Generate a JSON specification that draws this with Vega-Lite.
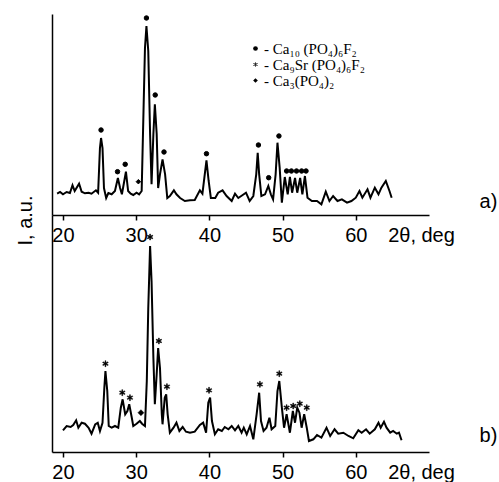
{
  "$schema": "https://vega.github.io/schema/vega-lite/v6.json",
  "padding": {"left": 15, "top": 13, "right": 0, "bottom": 0},
  "background": "white",
  "bounds": "flush",
  "spacing": 0,
  "config": {"view": {"stroke": null}, "font": "Liberation Sans"},
  "datasets": {
    "a_line": [
      {"theta":19.2,"I":21.3},{"theta":19.6,"I":23},{"theta":20.0,"I":20.7},{"theta":20.5,"I":23},{"theta":20.95,"I":22},{"theta":21.3,"I":29.7},{"theta":21.6,"I":24},{"theta":22.2,"I":31.3},{"theta":22.55,"I":23.3},{"theta":23.0,"I":21.7},{"theta":23.5,"I":22.3},{"theta":23.9,"I":21.3},{"theta":24.5,"I":24.7},{"theta":24.8,"I":22.3},{"theta":25.05,"I":67},{"theta":25.2,"I":77},{"theta":25.4,"I":67},{"theta":25.6,"I":27},{"theta":25.9,"I":17},{"theta":26.2,"I":22},{"theta":26.65,"I":20.7},{"theta":27.1,"I":24},{"theta":27.5,"I":37},{"theta":27.8,"I":27},{"theta":28.05,"I":20.7},{"theta":28.6,"I":43.3},{"theta":28.9,"I":24},{"theta":29.25,"I":21.3},{"theta":29.6,"I":20},{"theta":30.05,"I":22.3},{"theta":30.4,"I":20.7},{"theta":30.75,"I":24},{"theta":31.0,"I":104},{"theta":31.2,"I":167},{"theta":31.4,"I":189},{"theta":31.65,"I":164},{"theta":31.9,"I":81},{"theta":32.1,"I":30.7},{"theta":32.35,"I":81},{"theta":32.55,"I":110.7},{"theta":32.8,"I":81},{"theta":33.0,"I":27},{"theta":33.25,"I":40.7},{"theta":33.6,"I":55.7},{"theta":33.95,"I":40.7},{"theta":34.25,"I":17},{"theta":34.6,"I":19},{"theta":35.15,"I":24.7},{"theta":35.5,"I":20.7},{"theta":36.0,"I":17},{"theta":36.65,"I":14},{"theta":37.35,"I":14.7},{"theta":38.0,"I":15},{"theta":38.7,"I":24.7},{"theta":39.05,"I":21.3},{"theta":39.6,"I":54.7},{"theta":39.9,"I":34},{"theta":40.2,"I":17},{"theta":40.8,"I":17},{"theta":41.2,"I":22.3},{"theta":41.8,"I":24.7},{"theta":42.35,"I":19},{"theta":43.05,"I":14},{"theta":43.5,"I":21.3},{"theta":43.95,"I":17},{"theta":44.55,"I":20},{"theta":45.0,"I":22.3},{"theta":45.5,"I":14},{"theta":46.0,"I":19},{"theta":46.4,"I":40.7},{"theta":46.6,"I":62.3},{"theta":46.8,"I":40.7},{"theta":47.1,"I":19},{"theta":47.6,"I":20.7},{"theta":48.05,"I":29},{"theta":48.4,"I":20.7},{"theta":48.7,"I":15.7},{"theta":49.05,"I":40.7},{"theta":49.3,"I":72.3},{"theta":49.6,"I":47.3},{"theta":49.9,"I":12.3},{"theta":50.3,"I":38},{"theta":50.7,"I":20.7},{"theta":51.0,"I":38},{"theta":51.3,"I":22.3},{"theta":51.7,"I":37},{"theta":52.0,"I":22.3},{"theta":52.4,"I":37},{"theta":52.7,"I":20.7},{"theta":53.05,"I":39},{"theta":53.4,"I":17.3},{"theta":54.0,"I":14},{"theta":54.7,"I":14},{"theta":55.3,"I":10.7},{"theta":55.9,"I":23.3},{"theta":56.4,"I":14},{"theta":56.9,"I":19},{"theta":57.5,"I":14},{"theta":58.1,"I":15.7},{"theta":58.8,"I":12.3},{"theta":59.4,"I":14},{"theta":60.0,"I":17.3},{"theta":60.5,"I":24},{"theta":60.9,"I":17.3},{"theta":61.6,"I":25.7},{"theta":62.0,"I":17.3},{"theta":62.6,"I":27.3},{"theta":63.1,"I":20.7},{"theta":63.5,"I":27.3},{"theta":64.1,"I":34},{"theta":64.6,"I":24},{"theta":64.9,"I":17.3}
    ],
    "b_line": [
      {"theta":20.0,"I":21.7},{"theta":20.5,"I":26},{"theta":21.05,"I":25},{"theta":21.4,"I":27},{"theta":21.8,"I":31.7},{"theta":22.1,"I":24.3},{"theta":22.55,"I":29.3},{"theta":23.0,"I":28.3},{"theta":23.5,"I":24.3},{"theta":23.9,"I":18.3},{"theta":24.4,"I":27.7},{"theta":24.75,"I":29.3},{"theta":25.05,"I":21},{"theta":25.4,"I":29.3},{"theta":25.65,"I":64.3},{"theta":25.8,"I":81},{"theta":26.05,"I":61},{"theta":26.25,"I":26},{"theta":26.65,"I":24.3},{"theta":27.1,"I":26},{"theta":27.55,"I":24.3},{"theta":27.9,"I":44.3},{"theta":28.15,"I":52.7},{"theta":28.5,"I":37.7},{"theta":28.8,"I":41},{"theta":29.05,"I":47.7},{"theta":29.4,"I":34.3},{"theta":29.6,"I":26},{"theta":30.05,"I":28.3},{"theta":30.5,"I":31},{"theta":30.8,"I":28.3},{"theta":31.2,"I":26},{"theta":31.45,"I":71},{"theta":31.65,"I":144},{"theta":31.9,"I":206},{"theta":32.1,"I":171},{"theta":32.35,"I":94},{"theta":32.55,"I":47.7},{"theta":32.8,"I":77.7},{"theta":33.0,"I":104},{"theta":33.25,"I":84},{"theta":33.5,"I":37.7},{"theta":33.6,"I":27.7},{"theta":33.9,"I":54.3},{"theta":34.1,"I":57.7},{"theta":34.3,"I":37.7},{"theta":34.6,"I":19.3},{"theta":35.1,"I":24.3},{"theta":35.5,"I":29.3},{"theta":35.9,"I":21},{"theta":36.35,"I":25},{"theta":36.8,"I":20.3},{"theta":37.35,"I":19.3},{"theta":38.0,"I":20.3},{"theta":38.7,"I":27},{"theta":39.15,"I":29.3},{"theta":39.55,"I":19.3},{"theta":39.85,"I":49.3},{"theta":40.1,"I":54.3},{"theta":40.35,"I":31},{"theta":40.75,"I":17.7},{"theta":41.2,"I":22.7},{"theta":41.7,"I":21},{"theta":42.1,"I":25},{"theta":42.6,"I":22.7},{"theta":43.05,"I":26},{"theta":43.5,"I":21.7},{"theta":43.95,"I":26},{"theta":44.4,"I":19.3},{"theta":44.7,"I":24.3},{"theta":45.1,"I":17.7},{"theta":45.55,"I":26},{"theta":46.0,"I":12.7},{"theta":46.45,"I":37.7},{"theta":46.8,"I":59.3},{"theta":47.05,"I":31},{"theta":47.4,"I":21},{"theta":47.8,"I":24.3},{"theta":48.2,"I":34.3},{"theta":48.5,"I":22.7},{"theta":49.0,"I":26},{"theta":49.3,"I":61},{"theta":49.55,"I":71},{"theta":49.9,"I":44.3},{"theta":50.2,"I":24.3},{"theta":50.55,"I":37.7},{"theta":51.0,"I":19.3},{"theta":51.4,"I":41},{"theta":51.7,"I":29.3},{"theta":52.0,"I":44.3},{"theta":52.3,"I":39.3},{"theta":52.6,"I":24.3},{"theta":52.95,"I":37.7},{"theta":53.3,"I":24.3},{"theta":53.6,"I":11},{"theta":54.2,"I":12.7},{"theta":54.7,"I":17},{"theta":55.3,"I":14.3},{"theta":56.0,"I":24.3},{"theta":56.5,"I":16},{"theta":57.1,"I":22.7},{"theta":57.6,"I":18.3},{"theta":58.3,"I":19.3},{"theta":59.0,"I":16},{"theta":59.65,"I":13.7},{"theta":60.35,"I":21.7},{"theta":60.8,"I":19.3},{"theta":61.4,"I":22.7},{"theta":61.9,"I":18.3},{"theta":62.6,"I":22.7},{"theta":63.1,"I":29.3},{"theta":63.4,"I":24.3},{"theta":63.85,"I":30.3},{"theta":64.2,"I":24.3},{"theta":64.7,"I":19.3},{"theta":65.1,"I":21},{"theta":65.6,"I":18.3},{"theta":65.9,"I":19.3},{"theta":66.25,"I":11.7}
    ],
    "a_peaks": [
      {"theta":25.2,"I":85,"phase":"Ca₁₀ (PO₄)₆F₂"},{"theta":27.45,"I":43.3,"phase":"Ca₁₀ (PO₄)₆F₂"},{"theta":28.5,"I":50.7,"phase":"Ca₁₀ (PO₄)₆F₂"},{"theta":31.4,"I":197,"phase":"Ca₁₀ (PO₄)₆F₂"},{"theta":32.6,"I":120,"phase":"Ca₁₀ (PO₄)₆F₂"},{"theta":33.8,"I":63,"phase":"Ca₁₀ (PO₄)₆F₂"},{"theta":39.6,"I":61.3,"phase":"Ca₁₀ (PO₄)₆F₂"},{"theta":46.7,"I":70,"phase":"Ca₁₀ (PO₄)₆F₂"},{"theta":48.1,"I":37.3,"phase":"Ca₁₀ (PO₄)₆F₂"},{"theta":49.5,"I":79,"phase":"Ca₁₀ (PO₄)₆F₂"},{"theta":50.55,"I":44,"phase":"Ca₁₀ (PO₄)₆F₂"},{"theta":51.2,"I":44,"phase":"Ca₁₀ (PO₄)₆F₂"},{"theta":51.9,"I":44,"phase":"Ca₁₀ (PO₄)₆F₂"},{"theta":52.6,"I":44,"phase":"Ca₁₀ (PO₄)₆F₂"},{"theta":53.2,"I":44,"phase":"Ca₁₀ (PO₄)₆F₂"},
      {"theta":30.3,"I":33.3,"phase":"Ca₃(PO₄)₂"}
    ],
    "b_peaks": [
      {"theta":25.8,"I":88.3,"phase":"Ca₉Sr (PO₄)₆F₂"},{"theta":28.1,"I":59.3,"phase":"Ca₉Sr (PO₄)₆F₂"},{"theta":29.15,"I":54.3,"phase":"Ca₉Sr (PO₄)₆F₂"},{"theta":31.9,"I":215,"phase":"Ca₉Sr (PO₄)₆F₂"},{"theta":33.1,"I":111,"phase":"Ca₉Sr (PO₄)₆F₂"},{"theta":34.2,"I":65.3,"phase":"Ca₉Sr (PO₄)₆F₂"},{"theta":39.95,"I":61.7,"phase":"Ca₉Sr (PO₄)₆F₂"},{"theta":46.9,"I":67.7,"phase":"Ca₉Sr (PO₄)₆F₂"},{"theta":49.55,"I":78.3,"phase":"Ca₉Sr (PO₄)₆F₂"},{"theta":50.55,"I":44.3,"phase":"Ca₉Sr (PO₄)₆F₂"},{"theta":51.45,"I":46,"phase":"Ca₉Sr (PO₄)₆F₂"},{"theta":52.35,"I":48.3,"phase":"Ca₉Sr (PO₄)₆F₂"},{"theta":53.3,"I":44.3,"phase":"Ca₉Sr (PO₄)₆F₂"},
      {"theta":30.65,"I":39.3,"phase":"Ca₃(PO₄)₂"}
    ]
  },
  "resolve": {"scale": {"x": "independent", "y": "independent", "shape": "shared"}, "axis": {"x": "independent", "y": "independent"}, "legend": {"shape": "shared"}},
  "vconcat": [
    {
      "width": 377,
      "height": 201,
      "layer": [
        {
          "data": {"name": "a_line"},
          "mark": {"type": "line", "color": "black", "strokeWidth": 2},
          "encoding": {
            "x": {"field": "theta", "type": "quantitative", "scale": {"domain": [18.5, 70], "nice": false, "zero": false},
              "axis": {"values": [20, 30, 40, 50, 60], "title": "2θ, deg", "titleX": 369, "titleY": 26, "titleBaseline": "alphabetic", "titleAlign": "center", "titleFontSize": 20, "titleFontWeight": "normal", "titleColor": "black", "titleFont": "Liberation Sans", "labelFontSize": 20, "labelFont": "Liberation Sans", "labelColor": "black", "labelPadding": 5, "labelFlush": false, "labelOverlap": false, "tickSize": 5, "tickColor": "black", "tickWidth": 1.5, "domainColor": "black", "domainWidth": 1.5, "grid": false}},
            "y": {"field": "I", "type": "quantitative", "scale": {"domain": [0, 201], "nice": false},
              "axis": {"title": "I, a.u.", "ticks": false, "labels": false, "grid": false, "domainColor": "black", "domainWidth": 1.5, "titleX": -27, "titleY": 206, "titleAngle": -90, "titleAlign": "center", "titleBaseline": "middle", "titleFontSize": 20, "titleFontWeight": "normal", "titleColor": "black", "titleFont": "Liberation Sans"}}
          }
        },
        {
          "data": {"name": "a_peaks"},
          "mark": {"type": "point", "filled": true, "color": "black", "stroke": "black", "strokeWidth": 1, "size": 20, "opacity": 1},
          "encoding": {
            "x": {"field": "theta", "type": "quantitative"},
            "y": {"field": "I", "type": "quantitative"},
            "shape": {"field": "phase", "type": "nominal",
              "scale": {"domain": ["Ca₁₀ (PO₄)₆F₂", "Ca₉Sr (PO₄)₆F₂", "Ca₃(PO₄)₂"], "range": ["circle", "M-0.15,-1L0.15,-1L0.15,1L-0.15,1ZM-0.941,-0.37L-0.791,-0.63L0.941,0.37L0.791,0.63ZM-0.791,0.63L-0.941,0.37L0.791,-0.63L0.941,-0.37Z", "diamond"]},
              "legend": {"orient": "none", "legendX": 196, "legendY": 27, "title": null, "padding": 0, "labelExpr": "'- ' + datum.label", "labelFont": "Liberation Serif", "labelFontSize": 15, "labelColor": "black", "labelOffset": 1, "rowPadding": 0, "symbolSize": 22, "symbolFillColor": "black", "symbolStrokeColor": "black", "symbolStrokeWidth": 0.5,
                "encode": {"symbols": {"update": {"stroke": {"value": "black"}, "fill": {"value": "black"}, "strokeWidth": {"value": 0.5}, "opacity": {"value": 1}}}}}}
          }
        },
        {
          "data": {"values": [{"label": "a)"}]},
          "mark": {"type": "text", "align": "left", "baseline": "middle", "fontSize": 20, "font": "Liberation Sans", "color": "black"},
          "encoding": {"x": {"datum": 76.9}, "y": {"datum": 13}, "text": {"field": "label"}}
        }
      ]
    },
    {
      "width": 377,
      "height": 237,
      "layer": [
        {
          "data": {"name": "b_line"},
          "mark": {"type": "line", "color": "black", "strokeWidth": 2},
          "encoding": {
            "x": {"field": "theta", "type": "quantitative", "scale": {"domain": [18.5, 70], "nice": false, "zero": false},
              "axis": {"values": [20, 30, 40, 50, 60], "title": "2θ, deg", "titleX": 369, "titleY": 26, "titleBaseline": "alphabetic", "titleAlign": "center", "titleFontSize": 20, "titleFontWeight": "normal", "titleColor": "black", "titleFont": "Liberation Sans", "labelFontSize": 20, "labelFont": "Liberation Sans", "labelColor": "black", "labelPadding": 5, "labelFlush": false, "labelOverlap": false, "tickSize": 5, "tickColor": "black", "tickWidth": 1.5, "domainColor": "black", "domainWidth": 1.5, "grid": false}},
            "y": {"field": "I", "type": "quantitative", "scale": {"domain": [0, 237], "nice": false},
              "axis": {"title": null, "ticks": false, "labels": false, "grid": false, "domainColor": "black", "domainWidth": 1.5}}
          }
        },
        {
          "data": {"name": "b_peaks"},
          "mark": {"type": "point", "filled": true, "color": "black", "stroke": "black", "strokeWidth": 0.5, "size": 36, "opacity": 1},
          "encoding": {
            "x": {"field": "theta", "type": "quantitative"},
            "y": {"field": "I", "type": "quantitative"},
            "shape": {"field": "phase", "type": "nominal",
              "scale": {"domain": ["Ca₁₀ (PO₄)₆F₂", "Ca₉Sr (PO₄)₆F₂", "Ca₃(PO₄)₂"], "range": ["circle", "M-0.15,-1L0.15,-1L0.15,1L-0.15,1ZM-0.941,-0.37L-0.791,-0.63L0.941,0.37L0.791,0.63ZM-0.791,0.63L-0.941,0.37L0.791,-0.63L0.941,-0.37Z", "diamond"]}}
          }
        },
        {
          "data": {"values": [{"label": "b)"}]},
          "mark": {"type": "text", "align": "left", "baseline": "middle", "fontSize": 20, "font": "Liberation Sans", "color": "black"},
          "encoding": {"x": {"datum": 76.9}, "y": {"datum": 16}, "text": {"field": "label"}}
        }
      ]
    }
  ]
}
